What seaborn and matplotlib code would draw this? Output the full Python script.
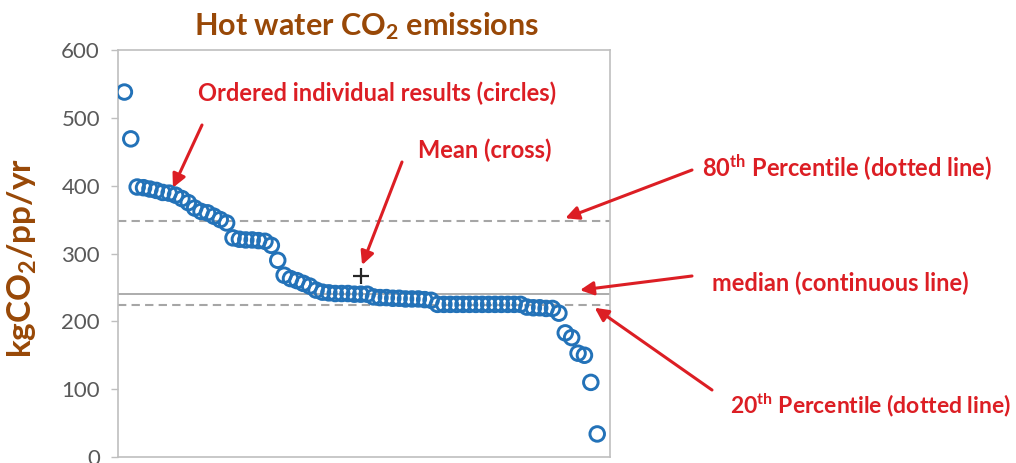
import matplotlib
matplotlib.use("Agg")
import matplotlib.pyplot as plt
import seaborn as sns
import pandas as pd

# Ordered individual results (kgCO2 per person per year)
emissions = [
    538, 469, 398, 397, 395, 393, 390, 389, 386, 381,
    375, 367, 362, 360, 355, 350, 345, 323, 321, 320,
    320, 319, 318, 312, 290, 268, 263, 260, 256, 252,
    246, 243, 242, 241, 241, 241, 240, 240, 240, 236,
    235, 235, 234, 234, 233, 233, 233, 232, 231, 225,
    225, 225, 225, 225, 225, 225, 225, 225, 225, 225,
    225, 225, 225, 221, 220, 220, 219, 219, 212, 183,
    176, 153, 150, 110, 34,
]
rank = list(range(1, len(emissions) + 1))

percentile_80 = 348
median_value = 240
percentile_20 = 224
mean_value = 267

y_ticks = [0, 100, 200, 300, 400, 500, 600]

df = pd.DataFrame({"rank": rank, "emissions": emissions})

sns.set_style("white")
plt.rcParams["font.family"] = ["Lato", "DejaVu Sans"]
plt.rcParams["mathtext.fontset"] = "custom"
plt.rcParams["mathtext.bf"] = "Lato:bold"
plt.rcParams["mathtext.rm"] = "Lato:bold"
plt.rcParams["mathtext.default"] = "bf"

brown = "#984807"
red = "#dc1e24"
blue = "#2372b8"
grey = "#a6a6a6"

W, H = 1016, 463


def fig_xy(px, py):
    # pixel position -> figure fraction
    return px / W, 1 - py / H


fig = plt.figure(figsize=(W / 100, H / 100), dpi=100)
ax = fig.add_axes([118 / W, 1 - 457 / H, (610 - 118) / W, (457 - 50) / H])

sns.scatterplot(data=df, x="rank", y="emissions", ax=ax, marker="o", s=110,
                facecolor="none", edgecolor=blue, linewidth=2.1, zorder=3)

ax.axhline(percentile_80, color=grey, lw=1.5, ls=(0, (4, 2.5)), zorder=2)
ax.axhline(median_value, color=grey, lw=1.3, zorder=2)
ax.axhline(percentile_20, color=grey, lw=1.5, ls=(0, (4, 2.5)), zorder=2)
ax.plot([(len(rank) + 1) / 2], [mean_value], marker="+", color="#262626",
        ms=12, mew=1.6, zorder=4)

ax.set_xlim(0, 77)
ax.set_ylim(0, 600)
ax.set_xticks([])
ax.set_yticks(y_ticks)
ax.tick_params(axis="y", left=True, length=5, width=1, color="#bfbfbf",
               labelsize=16, labelcolor="#595959", pad=8)
for s in ax.spines.values():
    s.set_color("#bfbfbf")
    s.set_linewidth(1.2)
ax.set_xlabel("")
ax.set_ylabel("kgCO$_2$/pp/yr", fontsize=24, fontweight="bold", color=brown)
ax.yaxis.set_label_coords(-0.16, 0.49)

fig.text(*fig_xy(367, 26), "Hot water CO$_2$ emissions", ha="center", va="center",
         fontsize=22, fontweight="bold", color=brown)

# annotations
notes = [
    ("Ordered individual results (circles)", (198, 93), 17),
    ("Mean (cross)", (418, 150), 17),
    ("80$^{th}$ Percentile (dotted line)", (702, 168), 17),
    ("median (continuous line)", (712, 283), 17),
    ("20$^{th}$ Percentile (dotted line)", (730, 405), 16.5),
]
for label, (px, py), size in notes:
    fig.text(*fig_xy(px, py), label, ha="left", va="center", fontsize=size,
             fontweight="bold", color=red)

arrows = [
    ((8.6, 397), (202, 125)),
    ((38.2, 283), (402, 162)),
    ((70.0, 352), (692, 170)),
    ((72.3, 246), (692, 276)),
    ((74.6, 220), (712, 390)),
]
for tip, (px, py) in arrows:
    ax.annotate("", xy=tip, xycoords="data", xytext=fig_xy(px, py),
                textcoords="figure fraction", annotation_clip=False,
                arrowprops=dict(arrowstyle="-|>", color=red, lw=2.2,
                                mutation_scale=20, shrinkA=0, shrinkB=0))

plt.savefig("out.png", dpi=100)
